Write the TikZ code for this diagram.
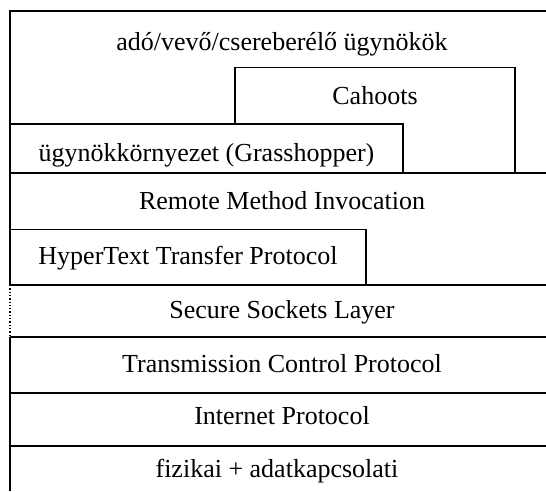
\documentclass[tikz,border=0pt]{standalone}
\usepackage{fontspec}
\setmainfont{Liberation Serif}
\begin{document}
\begin{tikzpicture}[x=1pt,y=-1pt,
  layer/.style={draw=black,line width=1.3pt},
  lbl/.style={anchor=base,inner sep=0pt,font=\fontsize{26}{30}\selectfont}]
\useasboundingbox (0,0) rectangle (546,491);
% outer frame (open to the right and bottom)
\draw[layer] (546,11) -- (10,11) -- (10,285);
\draw[layer,dotted,line width=1.3pt] (10,285) -- (10,337);
\draw[layer] (10,337) -- (10,491);
% Cahoots box (its lower left part is hidden behind the Grasshopper box)
\draw[layer] (235,124) -- (235,67.5) -- (515,67.5) -- (515,173);
% Grasshopper box
\draw[layer] (10,124) -- (403,124) -- (403,173);
% RMI line
\draw[layer] (10,173) -- (546,173);
% HTTP box
\draw[layer] (10,229.5) -- (366,229.5) -- (366,285);
% horizontal layers
\draw[layer] (10,285) -- (546,285);
\draw[layer] (10,337) -- (546,337);
\draw[layer] (10,393) -- (546,393);
\draw[layer] (10,446) -- (546,446);
% labels
\node[lbl] (agents) at (282,50.7) {adó/vevő/csereberélő ügynökök};
\node[lbl] (cahoots) at (375,104.7) {Cahoots};
\node[lbl] (grass) at (206.5,161.7) {ügynökkörnyezet (Grasshopper)};
\node[lbl] (rmi) at (282,209.3) {Remote Method Invocation};
\node[lbl] (http) at (188,264) {HyperText Transfer Protocol};
\node[lbl] (ssl) at (282,318.7) {Secure Sockets Layer};
\node[lbl] (tcp) at (282,372.7) {Transmission Control Protocol};
\node[lbl] (ip) at (282,424.4) {Internet Protocol};
\node[lbl] (phys) at (277,477.7) {fizikai + adatkapcsolati};
\end{tikzpicture}
\end{document}
